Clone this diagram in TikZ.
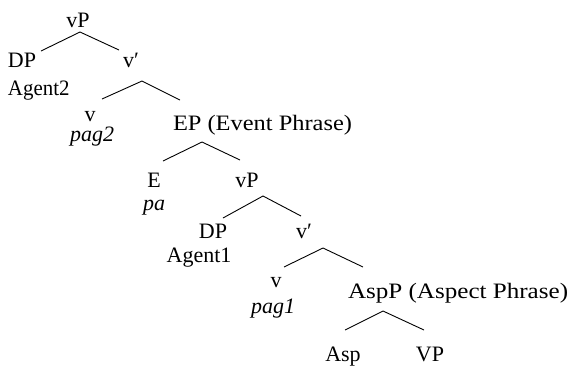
\documentclass[tikz,border=0pt]{standalone}
\usepackage{fontspec}
\setmainfont{Liberation Serif}
\begin{document}
\begin{tikzpicture}[x=1pt,y=-1pt,
  lbl/.style={inner sep=0pt,outer sep=0pt,anchor=base,font=\fontsize{22}{26}\selectfont},
  lblw/.style={lbl,anchor=base west},
  lit/.style={lbl,font=\fontsize{22}{26}\selectfont\itshape},
  branch/.style={line width=0.9pt,black}]
\useasboundingbox (0,0) rectangle (575,368);
% labels
\node[lbl]  (vP1)   at (78,27)  {vP};
\node[lblw] (DP1)   at (8,67)   {DP};
\node[lblw] (Ag2)   at (8,95)   {\addfontfeature{FakeStretch=0.95}Agent2};
\node[lbl]  (vb1)   at (131,67) {v′};
\node[lbl]  (v2)    at (90,121) {v};
\node[lit]  (pag2)  at (92,141) {pag2};
\node[lblw] (EP)    at (173,130) {\addfontfeature{FakeStretch=1.11}EP (Event Phrase)};
\node[lbl]  (E)     at (154,187) {E};
\node[lit]  (pa)    at (154,210) {pa};
\node[lbl]  (vP2)   at (247,187) {vP};
\node[lbl]  (DP2)   at (213,238) {DP};
\node[lbl]  (Ag1)   at (199,262) {Agent1};
\node[lbl]  (vb2)   at (304,238) {v′};
\node[lbl]  (v3)    at (276,287) {v};
\node[lit]  (pag1)  at (273,313) {pag1};
\node[lblw] (AspP)  at (348,298) {\addfontfeature{FakeStretch=1.14}AspP (Aspect Phrase)};
\node[lbl]  (Asp)   at (343,361) {Asp};
\node[lbl]  (VP)    at (430,361) {VP};
% branch points
\coordinate (a1) at (80,32);   \coordinate (a1l) at (41,51);   \coordinate (a1r) at (119,50);
\coordinate (a2) at (142,81);  \coordinate (a2l) at (102,99);  \coordinate (a2r) at (180,100);
\coordinate (a3) at (202,142); \coordinate (a3l) at (163,161); \coordinate (a3r) at (240,160);
\coordinate (a4) at (263,196); \coordinate (a4l) at (223,218); \coordinate (a4r) at (301,216);
\coordinate (a5) at (323,248); \coordinate (a5l) at (284,267); \coordinate (a5r) at (363,267);
\coordinate (a6) at (383,311); \coordinate (a6l) at (345,330); \coordinate (a6r) at (424,330);
\draw[branch] (a1l) -- (a1) -- (a1r);
\draw[branch] (a2l) -- (a2) -- (a2r);
\draw[branch] (a3l) -- (a3) -- (a3r);
\draw[branch] (a4l) -- (a4) -- (a4r);
\draw[branch] (a5l) -- (a5) -- (a5r);
\draw[branch] (a6l) -- (a6) -- (a6r);
\end{tikzpicture}
\end{document}
